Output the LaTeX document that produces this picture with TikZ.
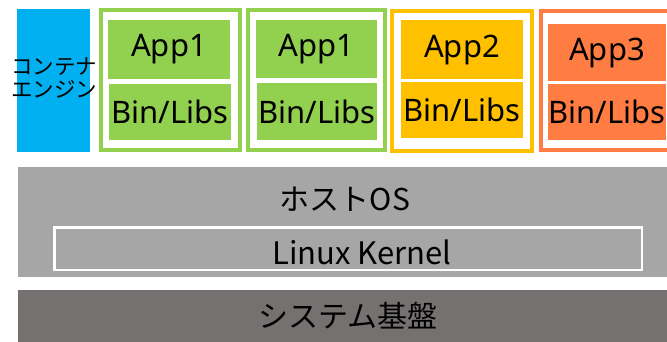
\documentclass[tikz,border=0pt]{standalone}
\usepackage{fontspec}
\setmainfont{Noto Sans}
\newfontfamily\jp{Noto Sans CJK JP}
\definecolor{engineblue}{HTML}{00B0F0}
\definecolor{appgreen}{HTML}{92D050}
\definecolor{appyellow}{HTML}{FFC000}
\definecolor{apporange}{HTML}{FF7C43}
\definecolor{hostgray}{HTML}{A6A6A6}
\definecolor{basegray}{HTML}{767171}
\tikzset{
  frame/.style={draw=#1, line width=4pt, fill=white},
  apptext/.style={font=\fontsize{31}{36}\selectfont, inner sep=0pt},
  jptext/.style={font=\jp\fontsize{30}{36}\selectfont, inner sep=0pt},
}
\begin{document}
\begin{tikzpicture}[x=1pt, y=-1pt]
\useasboundingbox (0,0) rectangle (667,342);
\begin{scope}
\clip (0,0) rectangle (667,342);

% container engine column
\fill[engineblue] (17,9) rectangle (90,152);
\node[font=\jp\fontsize{21.5}{23}\selectfont, align=center, inner sep=0pt] (engine) at (54.5,78.5) {コンテナ\\エンジン};

% container frames
\draw[frame=appgreen]  (101,10) rectangle (240,150);
\draw[frame=appgreen]  (248,10) rectangle (385,150);
\draw[frame=appyellow] (392,11) rectangle (532,151);
\draw[frame=apporange] (541,11) rectangle (680,150);

% app / library layers
\fill[appgreen] (108,20) rectangle (230,79);
\fill[appgreen] (109,84) rectangle (231,140);
\node[apptext] (app1a) at (169,49.5) {App1};
\node[apptext] (libs1a) at (170,112) {Bin/Libs};

\fill[appgreen] (256,20) rectangle (377,78);
\fill[appgreen] (257,83) rectangle (377,140);
\node[apptext] (app1b) at (316.5,49) {App1};
\node[apptext] (libs1b) at (317,111.5) {Bin/Libs};

\fill[appyellow] (401,20) rectangle (523,79);
\fill[appyellow] (401,82) rectangle (523,138);
\node[apptext] (app2) at (462,49.5) {App2};
\node[apptext] (libs2) at (462,110) {Bin/Libs};

\fill[apporange] (548,24) rectangle (666,81);
\fill[apporange] (548,84) rectangle (666,140);
\node[apptext] (app3) at (607,52.5) {App3};
\node[apptext] (libs3) at (607,112) {Bin/Libs};

% host OS
\fill[hostgray] (18,167) rectangle (680,277);
\node[jptext] (hostos) at (345,199) {ホストOS};
\draw[white, line width=2.5pt] (54.5,227.5) rectangle (642,270);
\node[jptext, font=\jp\fontsize{31}{36}\selectfont] (kernel) at (362,252) {Linux Kernel};

% hardware base
\fill[basegray] (18,290) rectangle (680,350);
\node[jptext] (base) at (348,316) {システム基盤};
\end{scope}
\end{tikzpicture}
\end{document}
